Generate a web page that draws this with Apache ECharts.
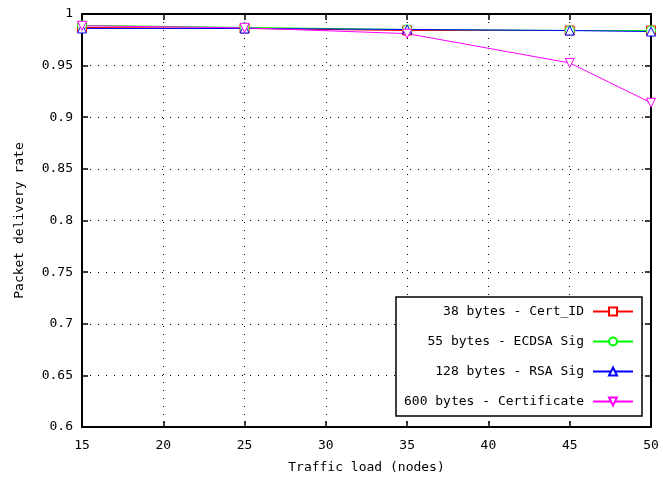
<!DOCTYPE html>
<html>
<head>
<meta charset="utf-8">
<script src="https://cdn.jsdelivr.net/npm/echarts@6/dist/echarts.min.js"></script>
<style>
  html, body { margin: 0; padding: 0; background: #fff; }
  #chart { width: 663px; height: 484px; }
</style>
</head>
<body>
<div id="chart"></div>
<script>
const loads = [15, 25, 35, 45, 50];
const certId = [0.987, 0.986, 0.984, 0.984, 0.984];
const ecdsaSig = [0.989, 0.987, 0.985, 0.984, 0.984];
const rsaSig = [0.986, 0.986, 0.985, 0.984, 0.983];
const certificate = [0.9886, 0.9866, 0.981, 0.9526, 0.914];
const yTicks = [0.6, 0.65, 0.7, 0.75, 0.8, 0.85, 0.9, 0.95, 1];

const font = "DejaVu Sans Mono";

function pairs(ys) {
  return loads.map((x, i) => [x, ys[i]]);
}

function line(name, ys, color, symbol, rotate) {
  return {
    name: name,
    type: "line",
    data: pairs(ys),
    symbol: symbol,
    symbolSize: 9,
    symbolRotate: rotate || 0,
    showAllSymbol: true,
    lineStyle: { color: color, width: 1 },
    itemStyle: { color: "#fff", borderColor: color, borderWidth: 1 },
    emphasis: { disabled: true },
    animation: false,
  };
}

const chart = echarts.init(document.getElementById("chart"));
chart.setOption({
  backgroundColor: "#fff",
  animation: false,
  textStyle: { fontFamily: font },
  grid: { left: 82, right: 12, top: 14, bottom: 57 },
  legend: {
    right: 21,
    top: 297,
    orient: "vertical",
    align: "right",
    backgroundColor: "#fff",
    borderColor: "#000",
    borderWidth: 1.5,
    padding: [8, 8, 8, 8],
    itemGap: 17,
    itemWidth: 40,
    itemHeight: 10,
    textStyle: { fontFamily: font, fontSize: 13, color: "#000", padding: [0, 4, 0, 0] },
    data: [
      "38 bytes - Cert_ID",
      "55 bytes - ECDSA Sig",
      "128 bytes - RSA Sig",
      "600 bytes - Certificate",
    ],
  },
  xAxis: [
    {
      type: "value",
      min: 15,
      max: 50,
      interval: 5,
      name: "Traffic load (nodes)",
      nameLocation: "middle",
      nameGap: 34,
      nameTextStyle: { fontFamily: font, fontSize: 13, color: "#000" },
      axisLine: { onZero: false, lineStyle: { color: "#000", width: 2 } },
      axisTick: { inside: true, length: 6, lineStyle: { color: "#000", width: 1.5 } },
      axisLabel: { fontFamily: font, fontSize: 13, color: "#000", margin: 12 },
      splitLine: { show: true, lineStyle: { color: "#000", type: [1, 7], width: 1 } },
    },
    {
      type: "value",
      position: "top",
      min: 15,
      max: 50,
      interval: 5,
      axisLine: { onZero: false, lineStyle: { color: "#000", width: 2 } },
      axisTick: { inside: true, length: 6, lineStyle: { color: "#000", width: 1.5 } },
      axisLabel: { show: false },
      splitLine: { show: false },
    },
  ],
  yAxis: [
    {
      type: "value",
      min: yTicks[0],
      max: yTicks[yTicks.length - 1],
      interval: 0.05,
      name: "Packet delivery rate",
      nameLocation: "middle",
      nameGap: 56,
      nameTextStyle: { fontFamily: font, fontSize: 13, color: "#000" },
      axisLine: { onZero: false, lineStyle: { color: "#000", width: 2 } },
      axisTick: { inside: true, length: 6, lineStyle: { color: "#000", width: 1.5 } },
      axisLabel: {
        fontFamily: font,
        fontSize: 13,
        color: "#000",
        margin: 9,
        formatter: (v) => {
          const t = yTicks.find((k) => Math.abs(k - v) < 1e-6);
          return t === undefined ? "" : String(t);
        },
      },
      splitLine: { show: true, lineStyle: { color: "#000", type: [1, 7], width: 1 } },
    },
    {
      type: "value",
      position: "right",
      min: yTicks[0],
      max: yTicks[yTicks.length - 1],
      interval: 0.05,
      axisLine: { onZero: false, lineStyle: { color: "#000", width: 2 } },
      axisTick: { inside: true, length: 6, lineStyle: { color: "#000", width: 1.5 } },
      axisLabel: { show: false },
      splitLine: { show: false },
    },
  ],
  series: [
    line("38 bytes - Cert_ID", certId, "#ff0000", "rect"),
    line("55 bytes - ECDSA Sig", ecdsaSig, "#00ff00", "circle"),
    line("128 bytes - RSA Sig", rsaSig, "#0000ff", "triangle"),
    line("600 bytes - Certificate", certificate, "#ff00ff", "triangle", 180),
  ],
});
</script>
</body>
</html>
